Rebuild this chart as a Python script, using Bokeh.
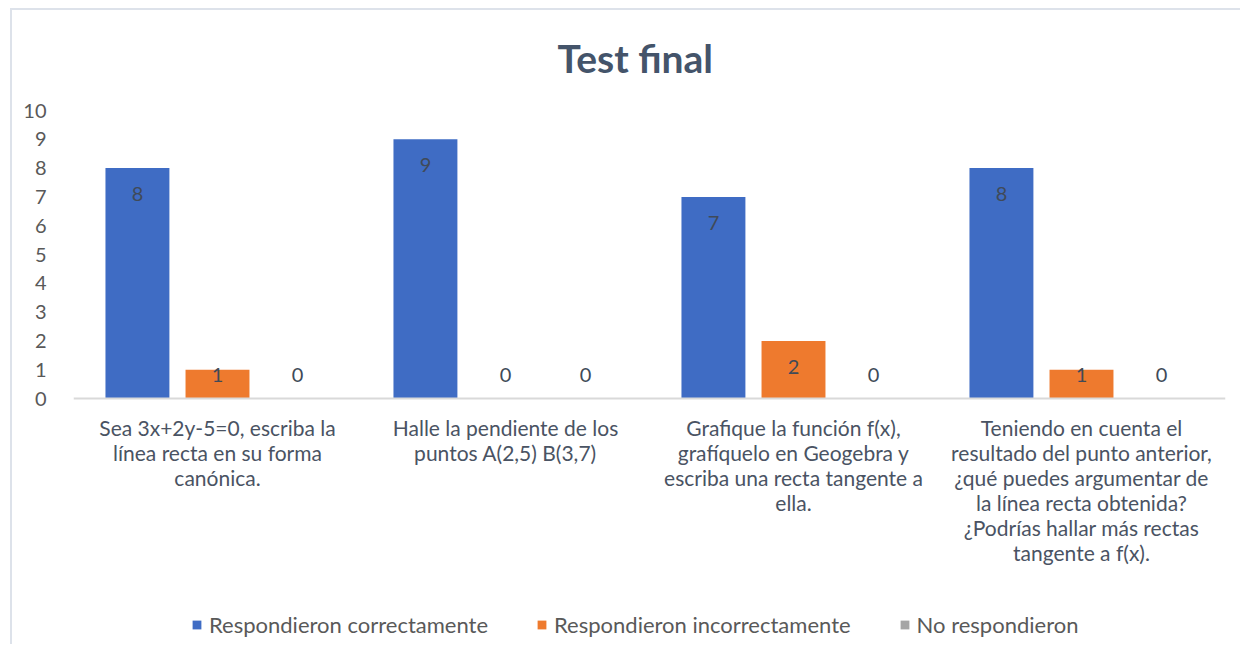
from bokeh.plotting import figure
from bokeh.models import ColumnDataSource, Legend, LegendItem, FixedTicker, Range1d, Span
from bokeh.core.properties import value
from bokeh.embed import file_html
from bokeh.resources import INLINE

categories = [
    "Sea 3x+2y-5=0, escriba la\nlínea recta en su forma\ncanónica.",
    "Halle la pendiente de los\npuntos A(2,5) B(3,7)",
    "Grafique la función f(x),\ngrafíquelo en Geogebra y\nescriba una recta tangente a\nella.",
    "Teniendo en cuenta el\nresultado del punto anterior,\n¿qué puedes argumentar de\nla línea recta obtenida?\n¿Podrías hallar más rectas\ntangente a f(x).",
]
series_names = ["Respondieron correctamente", "Respondieron incorrectamente", "No respondieron"]
correct = [8, 9, 7, 8]
incorrect = [1, 0, 2, 1]
no_answer = [0, 0, 0, 0]
y_ticks = [0, 1, 2, 3, 4, 5, 6, 7, 8, 9, 10]

colors = ["#3f6cc4", "#ee7a2e", "#a5a5a5"]
FONT = "Lato"
TEXT = "#595959"
BORDER = "#dde2ea"

W, H = 1240, 644
TOP, BOTTOM, LEFT, RIGHT = 110, 0, 73, 15
PX_PER_UNIT = 28.8
frame_h = H - TOP - BOTTOM
y_max = max(y_ticks)
y_min = y_max - frame_h / PX_PER_UNIT

# chart-area border drawn as CSS background lines (left and top edges)
border_css = {
    "background-color": "white",
    "background-image": f"linear-gradient({BORDER},{BORDER}), linear-gradient({BORDER},{BORDER})",
    "background-size": "2px 100%, 100% 2px",
    "background-position": "10px 8px, 10px 8px",
    "background-repeat": "no-repeat",
}

p = figure(width=W, height=H, output_backend="svg", toolbar_location=None,
           x_range=Range1d(0, len(categories)), y_range=Range1d(y_min, y_max),
           min_border_left=LEFT, min_border_right=RIGHT, min_border_top=TOP,
           min_border_bottom=BOTTOM, styles=border_css)
p.border_fill_alpha = 0
p.background_fill_alpha = 0

p.title.text = "Test final"
p.title.align = "left"
p.title.offset = 484
p.title.text_font = FONT
p.title.text_font_size = "39px"
p.title.text_font_style = "bold"
p.title.text_color = "#44546a"
p.title.standoff = 60

offsets = [-0.278, 0.0, 0.278]
bar_w = 0.222
all_series = [correct, incorrect, no_answer]
renderers = []
for k, vals in enumerate(all_series):
    xs = [i + 0.5 + offsets[k] for i in range(len(categories))]
    ly = [v - 0.9 if v >= 2 else 0.82 for v in vals]
    src = ColumnDataSource(dict(x=xs, top=vals, ly=ly, lab=[str(v) for v in vals]))
    r = p.vbar(x="x", top="top", width=bar_w, bottom=0, source=src,
               fill_color=colors[k], line_color=None)
    renderers.append(r)
    p.text(x="x", y="ly", text="lab", source=src, text_align="center",
           text_baseline="middle", text_font=value(FONT), text_font_size="20px",
           text_color="#404a58")

# baseline (category axis line)
p.add_layout(Span(location=0, dimension="width", line_color="#d9d9d9", line_width=2))

# category labels below the baseline
cat_src = ColumnDataSource(dict(x=[i + 0.5 for i in range(len(categories))],
                                y=[-16 / PX_PER_UNIT] * len(categories),
                                t=categories))
p.text(x="x", y="y", text="t", source=cat_src, text_align="center",
       text_baseline="top", text_font=value(FONT), text_font_size="21px",
       text_color="#4a5363", text_line_height=1.0)

p.xgrid.grid_line_color = None
p.ygrid.grid_line_color = None
p.outline_line_color = None
p.xaxis.visible = False

p.yaxis.ticker = FixedTicker(ticks=y_ticks)
p.yaxis.axis_line_color = None
p.yaxis.major_tick_line_color = None
p.yaxis.minor_tick_line_color = None
p.yaxis.major_label_text_font = FONT
p.yaxis.major_label_text_font_size = "20px"
p.yaxis.major_label_text_color = TEXT
p.yaxis.major_label_standoff = 21

legend = Legend(items=[LegendItem(label=n, renderers=[r]) for n, r in zip(series_names, renderers)],
                orientation="horizontal", location=(118, 6))
legend.label_text_font = FONT
legend.label_text_font_size = "22px"
legend.label_text_color = TEXT
legend.glyph_width = 11
legend.glyph_height = 11
legend.label_standoff = 7
legend.spacing = 48
legend.padding = 6
legend.border_line_color = None
legend.background_fill_alpha = 0
legend.margin = 0
p.add_layout(legend, "center")

open("out.html", "w").write(file_html(p, INLINE))
